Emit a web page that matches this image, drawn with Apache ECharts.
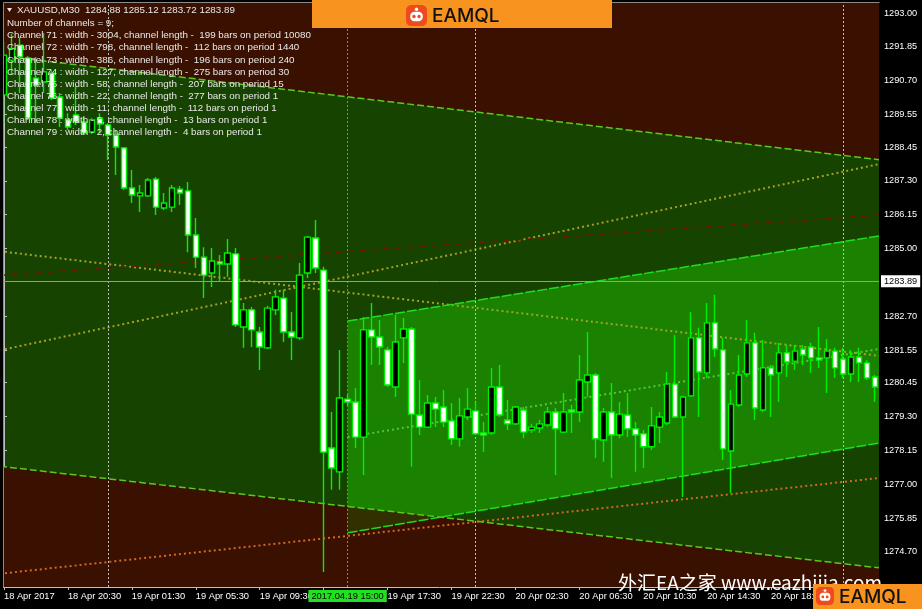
<!DOCTYPE html>
<html><head><meta charset="utf-8">
<script src="https://cdn.jsdelivr.net/npm/echarts@6/dist/echarts.min.js"></script>
<style>html,body{margin:0;padding:0;background:#000;}#c{width:922px;height:609px;}</style>
</head><body><div id="c"></div>
<script>
// ---- time categories (M30 bars) ----
const times18 = ['16:30','17:00','17:30','18:00','18:30','19:00','19:30','20:00','20:30','21:00','21:30','22:00','22:30'];
const times19 = ['00:00','00:30','01:00','01:30','02:00','02:30','03:00','03:30','04:00','04:30','05:00','05:30','06:00','06:30','07:00','07:30','08:00','08:30','09:00','09:30','10:00','10:30','11:00','11:30','12:00','12:30','13:00','13:30','14:00','14:30','15:00','15:30','16:00','16:30','17:00','17:30','18:00','18:30','19:00','19:30','20:00','20:30','22:00','22:30','23:00','23:30'];
const times20 = ['00:00','00:30','01:00','01:30','02:00','02:30','03:00','03:30','04:00','04:30','05:00','05:30','06:00','06:30','07:00','07:30','08:00','08:30','09:00','09:30','10:00','10:30','11:00','11:30','12:00','12:30','13:00','13:30','14:00','14:30','15:00','15:30','16:00','16:30','17:00','17:30','18:00','18:30','19:00','19:30','20:00','20:30','21:00','21:30','22:00','22:30'];
const times21 = ['00:00','00:30','01:00','01:30','02:00'];
const categories = [].concat(
  times18.map(t => '18 Apr ' + t), times19.map(t => '19 Apr ' + t),
  times20.map(t => '20 Apr ' + t), times21.map(t => '21 Apr ' + t));
const firstLabel = '18 Apr 2017';

// ---- OHLC ----
const opens = [1290.22,1291.40,1291.91,1291.47,1290.79,1290.66,1290.96,1290.15,1289.37,1289.54,
1289.30,1288.96,1289.43,1289.20,1288.86,1288.42,1287.06,1286.79,1286.79,1287.36,
1286.38,1286.41,1287.02,1286.96,1285.46,1284.71,1284.17,1284.55,1284.48,1284.82,
1282.34,1282.92,1282.17,1281.63,1282.92,1283.32,1282.17,1281.97,1284.17,1285.36,
1284.27,1278.23,1277.42,1279.89,1279.79,1278.60,1282.24,1282.00,1281.56,1280.30,
1281.97,1282.27,1279.35,1278.94,1279.76,1279.62,1279.15,1278.54,1279.28,1279.49,
1278.74,1278.74,1280.30,1279.18,1279.05,1279.52,1278.84,1278.91,1279.01,1279.45,
1278.77,1279.52,1279.45,1280.47,1280.71,1278.50,1279.45,1278.67,1279.35,1278.88,
1278.71,1278.27,1278.94,1279.08,1280.40,1279.28,1280.00,1281.97,1280.78,1282.48,
1281.56,1278.13,1279.69,1280.74,1281.80,1279.52,1280.95,1280.78,1281.46,1281.18,
1281.59,1281.66,1281.29,1281.29,1281.52,1281.25,1280.74,1281.32,1281.12,1280.64];
const closes = [1291.57,1291.80,1291.51,1289.43,1290.55,1291.00,1290.11,1289.43,1289.13,1289.30,
1288.92,1289.37,1289.23,1288.86,1288.45,1287.06,1286.82,1286.89,1287.33,1286.41,
1286.55,1287.06,1286.89,1285.46,1284.71,1284.10,1284.58,1284.48,1284.85,1282.41,
1282.92,1282.24,1281.66,1282.98,1283.36,1282.17,1282.00,1284.10,1285.39,1284.34,
1278.09,1277.55,1279.93,1279.79,1278.60,1282.24,1282.00,1281.66,1280.37,1281.83,
1282.27,1279.38,1278.94,1279.76,1279.55,1279.11,1278.54,1279.32,1279.55,1278.71,
1278.67,1280.30,1279.35,1279.05,1279.62,1278.77,1278.94,1279.05,1279.45,1278.88,
1279.45,1279.45,1280.54,1280.71,1278.54,1279.45,1278.67,1279.38,1278.88,1278.67,
1278.27,1278.98,1279.28,1280.40,1279.28,1279.96,1281.97,1280.81,1282.48,1281.59,
1278.20,1279.72,1280.71,1281.80,1279.59,1280.95,1280.71,1281.46,1281.15,1281.52,
1281.39,1281.29,1281.22,1281.52,1280.95,1280.74,1281.32,1281.12,1280.61,1280.30];
const lows = [1289.26,1290.90,1290.28,1289.37,1289.26,1290.28,1290.05,1289.13,1289.03,1289.20,
1288.86,1288.89,1288.92,1288.01,1287.50,1286.99,1286.55,1286.24,1286.75,1286.14,
1286.31,1286.24,1286.48,1284.88,1284.34,1283.32,1283.70,1283.87,1284.04,1282.34,
1281.63,1281.66,1280.88,1281.59,1282.75,1281.83,1281.22,1281.90,1284.00,1284.17,
1274.02,1276.81,1276.81,1279.66,1278.23,1277.31,1281.05,1281.05,1280.30,1279.96,
1281.12,1277.59,1278.67,1278.91,1278.94,1278.94,1278.33,1278.27,1279.18,1278.67,
1278.09,1278.67,1279.28,1278.84,1279.01,1278.57,1278.74,1278.74,1278.94,1277.31,
1278.74,1278.74,1279.11,1279.96,1277.89,1277.76,1277.21,1278.57,1278.60,1277.42,
1277.55,1278.16,1278.40,1279.01,1279.25,1276.57,1279.96,1279.28,1280.61,1281.32,
1277.82,1276.70,1279.62,1280.64,1279.18,1279.45,1279.28,1279.79,1280.64,1280.88,
1281.05,1280.78,1280.95,1280.10,1280.61,1280.61,1280.47,1280.47,1280.54,1279.79];
const highs = [1292.01,1292.30,1292.18,1291.54,1291.51,1292.32,1291.06,1290.28,1289.60,1290.49,
1289.47,1289.43,1289.60,1289.26,1289.03,1288.45,1287.67,1287.16,1287.40,1287.43,
1286.89,1287.16,1287.13,1287.26,1286.04,1285.05,1285.02,1284.78,1285.33,1285.02,
1283.15,1283.02,1282.34,1283.05,1283.60,1283.60,1282.85,1284.51,1285.43,1285.97,
1284.38,1279.45,1281.56,1280.03,1280.27,1282.68,1283.15,1282.58,1281.66,1282.75,
1282.64,1282.34,1280.54,1280.03,1279.96,1280.20,1279.76,1279.93,1280.27,1279.79,
1279.11,1280.95,1281.05,1279.86,1279.66,1279.62,1279.05,1279.18,1279.62,1279.59,
1280.10,1279.69,1281.39,1282.17,1280.78,1279.59,1280.44,1279.79,1280.10,1279.11,
1278.84,1279.62,1279.45,1280.81,1282.07,1280.00,1282.85,1282.31,1283.15,1283.43,
1281.97,1280.20,1281.39,1282.58,1282.14,1281.90,1281.05,1281.80,1281.73,1281.73,
1281.73,1281.80,1282.34,1281.93,1281.63,1281.63,1281.56,1281.63,1281.22,1280.71];

// ---- price axis ----
const Y_MIN = 1273.51, Y_MAX = 1293.34;
const yTickLabels = [1293.00,1291.85,1290.70,1289.55,1288.45,1287.30,1286.15,1285.00,1282.70,1281.55,1280.45,1279.30,1278.15,1277.00,1275.85,1274.70];
const currentPrice = 1283.89;
const crosshairBar = '19 Apr 15:00';
const crosshairLabel = '2017.04.19 15:00';
const daySeparators = ['19 Apr 00:00', '20 Apr 00:00', '21 Apr 00:00'];

// ---- channel lines: [bar index, price] end points ----
const bigUpper = [[-0.5, 1291.55], [109.5, 1288.02]];
const bigLower = [[-0.5, 1277.61], [109.5, 1274.16]];
const bigMid = [[-0.5, 1284.91], [109.5, 1281.36]];
const risingDotted = [[-0.5, 1281.55], [109.5, 1287.87]];
const redDashed = [[-0.5, 1284.09], [109.5, 1286.14]];
const orangeDotted = [[-0.5, 1273.96], [109.5, 1277.21]];
const brightUpper = [[43, 1282.54], [109.5, 1285.43]];
const brightLower = [[43, 1275.35], [109.5, 1278.40]];
const brightMid = [[43, 1278.60], [109.5, 1281.59]];

// ---- text ----
const headerText = 'XAUUSD,M30  1284.88 1285.12 1283.72 1283.89';
const infoLines = [
 'Number of channels = 9;',
 'Channel 71 : width - 3004, channel length -  199 bars on period 10080',
 'Channel 72 : width - 798, channel length -  112 bars on period 1440',
 'Channel 73 : width - 386, channel length -  196 bars on period 240',
 'Channel 74 : width - 127, channel length -  275 bars on period 30',
 'Channel 75 : width - 58, channel length -  207 bars on period 15',
 'Channel 76 : width - 22, channel length -  277 bars on period 1',
 'Channel 77 : width - 11, channel length -  112 bars on period 1',
 'Channel 78 : width - 5, channel length -  13 bars on period 1',
 'Channel 79 : width - 2, channel length -  4 bars on period 1'
];
const brandText = 'EAMQL';
const watermarkText = '外汇EA之家 www.eazhijia.com';

const candleData = opens.map((o, i) => [o, closes[i], lows[i], highs[i]]);
const FONT = 'Liberation Sans, Arial, sans-serif';

function polySeries(verts, fill, opacity, z) {
  return { type: 'custom', xAxisIndex: 1, yAxisIndex: 0, silent: true, z: z, clip: true,
    data: [[0, 1280]],
    renderItem: function (params, api) {
      return { type: 'polygon', shape: { points: verts.map(v => api.coord(v)) }, style: { fill: fill, opacity: opacity } };
    } };
}
function lineSeries(pts, color, width, type) {
  return { type: 'line', xAxisIndex: 1, yAxisIndex: 0, data: pts, symbol: 'none', silent: true, z: 3,
    lineStyle: { color: color, width: width, type: type }, animation: false };
}

const topZone = [[-0.5, Y_MAX], [109.5, Y_MAX], bigUpper[1], bigUpper[0]];
const bottomZone = [bigLower[0], bigLower[1], [109.5, Y_MIN], [-0.5, Y_MIN]];
const brightZone = [brightUpper[0], brightUpper[1], brightLower[1], brightLower[0]];

const BROWN = '#3a1100', DKGREEN = '#174300', BRIGHT = '#1a8200';

function robot(x, y, s) {
  return [
    { type: 'rect', shape: { x: x, y: y, width: s, height: s, r: s * 0.25 }, style: { fill: '#ef4a1e' }, z: 101 },
    { type: 'circle', shape: { cx: x + s / 2, cy: y + s * 0.2, r: s * 0.08 }, style: { fill: '#fff' }, z: 102 },
    { type: 'rect', shape: { x: x + s * 0.2, y: y + s * 0.32, width: s * 0.6, height: s * 0.45, r: s * 0.2 }, style: { fill: '#fff' }, z: 102 },
    { type: 'circle', shape: { cx: x + s * 0.38, cy: y + s * 0.55, r: s * 0.08 }, style: { fill: '#ef4a1e' }, z: 103 },
    { type: 'circle', shape: { cx: x + s * 0.62, cy: y + s * 0.55, r: s * 0.08 }, style: { fill: '#ef4a1e' }, z: 103 }
  ];
}

const graphics = [];
graphics.push({ type: 'rect', shape: { x: 0, y: 0, width: 3, height: 588 }, style: { fill: '#000' }, z: 50 });
graphics.push({ type: 'line', shape: { x1: 3.5, y1: 2.5, x2: 879.5, y2: 2.5 }, style: { stroke: '#8a8a8a', lineWidth: 1 }, z: 51 });
graphics.push({ type: 'line', shape: { x1: 3.5, y1: 2.5, x2: 3.5, y2: 587.5 }, style: { stroke: '#8a8a8a', lineWidth: 1 }, z: 51 });
graphics.push({ type: 'polygon', shape: { points: [[7, 8], [12, 8], [9.5, 12]] }, style: { fill: '#e8e8e8' }, z: 60 });
graphics.push({ type: 'text', x: 17, y: 10, style: { text: headerText, fill: '#e8e8e8', font: '9.8px ' + FONT, verticalAlign: 'middle', textVerticalAlign: 'middle' }, z: 60 });
infoLines.forEach((t, i) => {
  graphics.push({ type: 'text', x: 7, y: 23.5 + i * 12.1, style: { text: t, fill: '#e8e8e8', font: '9.8px ' + FONT, verticalAlign: 'middle', textVerticalAlign: 'middle' }, z: 60 });
});
// top banner
graphics.push({ type: 'rect', shape: { x: 312, y: 0, width: 300, height: 28 }, style: { fill: '#f7931e' }, z: 100 });
robot(406, 5, 21).forEach(g => graphics.push(g));
graphics.push({ type: 'text', x: 432, y: 16, style: { text: brandText, fill: '#111', font: '500 19px Inter, Lato, sans-serif', verticalAlign: 'middle', textVerticalAlign: 'middle' }, z: 101 });
// watermark and bottom-right banner
graphics.push({ type: 'text', x: 618, y: 583, style: { text: watermarkText, fill: '#ffffff', font: '19px "Noto Sans CJK SC", sans-serif', verticalAlign: 'middle', textVerticalAlign: 'middle' }, z: 90 });
graphics.push({ type: 'rect', shape: { x: 813, y: 584, width: 109, height: 25 }, style: { fill: '#f7931e' }, z: 100 });
robot(816, 587, 18).forEach(g => graphics.push(g));
graphics.push({ type: 'text', x: 839, y: 597, style: { text: brandText, fill: '#111', font: '500 19px Inter, Lato, sans-serif', verticalAlign: 'middle', textVerticalAlign: 'middle' }, z: 101 });

const markData = daySeparators.map(d => ({ xAxis: d, lineStyle: { color: '#bdbdbd', type: [2, 2], width: 1 }, label: { show: false } }));
markData.push({ xAxis: crosshairBar, lineStyle: { color: '#22c822', type: [2, 2], width: 1 },
  label: { show: true, position: 'start', formatter: crosshairLabel, backgroundColor: '#22e022', color: '#000', padding: [2, 3, 1, 3], fontSize: 9.3, fontFamily: FONT, distance: 3 } });
markData.push({ yAxis: currentPrice, lineStyle: { color: '#9a9a9a', type: 'solid', width: 1 },
  label: { show: true, position: 'end', formatter: currentPrice.toFixed(2), backgroundColor: '#ffffff', color: '#000', padding: [2, 3, 1, 3], fontSize: 9.2, fontFamily: FONT, distance: 2 } });

const chart = echarts.init(document.getElementById('c'), null, { renderer: 'canvas' });
chart.setOption({
  backgroundColor: '#000',
  animation: false,
  grid: { left: -1, top: 3, width: 880, height: 584, show: true, backgroundColor: DKGREEN, borderWidth: 0 },
  xAxis: [{
    type: 'category', data: categories, boundaryGap: true,
    axisLine: { lineStyle: { color: '#c0c0c0', width: 1 } },
    axisTick: { show: true, interval: 7, alignWithLabel: true, length: 3, lineStyle: { color: '#c0c0c0' } },
    axisLabel: { interval: 7, align: 'left', margin: 5, color: '#ffffff', fontSize: 9.3, fontFamily: FONT,
      formatter: (v, idx) => idx === 0 ? firstLabel : v },
    splitLine: { show: false }
  }, {
    type: 'value', show: false, min: -0.5, max: 109.5, gridIndex: 0
  }],
  yAxis: [{
    type: 'value', position: 'right', min: Y_MIN, max: Y_MAX, scale: true,
    axisLine: { show: true, lineStyle: { color: '#c0c0c0', width: 1 } },
    axisTick: { show: true, length: 3, customValues: yTickLabels, lineStyle: { color: '#c0c0c0' } },
    axisLabel: { customValues: yTickLabels, color: '#ffffff', fontSize: 9.2, fontFamily: FONT, margin: 5,
      formatter: v => Number(v).toFixed(2) },
    splitLine: { show: false }
  }],
  graphic: graphics,
  series: [
    polySeries(topZone, BROWN, 1, 1),
    polySeries(bottomZone, BROWN, 1, 1),
    polySeries(brightZone, BRIGHT, 1, 1),
    polySeries(bottomZone, BROWN, 0.72, 1),
    lineSeries(bigUpper, '#5ac81e', 1.5, [7, 3]),
    lineSeries(bigLower, '#5ac81e', 1.5, [7, 3]),
    lineSeries(bigMid, '#a0a428', 2, [2, 3]),
    lineSeries(risingDotted, '#a8a020', 2, [2, 3]),
    lineSeries(redDashed, '#6e1a00', 1.5, [6, 6]),
    lineSeries(orangeDotted, '#d2691e', 2, [2, 3]),
    lineSeries(brightUpper, '#1edc1e', 1.5, [10, 2]),
    lineSeries(brightLower, '#1edc1e', 1.5, [10, 2]),
    lineSeries(brightMid, '#50c83a', 2, [2, 3]),
    {
      type: 'candlestick', xAxisIndex: 0, yAxisIndex: 0, data: candleData, barWidth: 6, z: 5, clip: false,
      itemStyle: { color: '#000000', color0: '#ffffff', borderColor: '#00f000', borderColor0: '#00f000', borderWidth: 1.4 },
      markLine: { silent: true, symbol: 'none', animation: false, data: markData }
    }
  ]
});
</script>
</body></html>
